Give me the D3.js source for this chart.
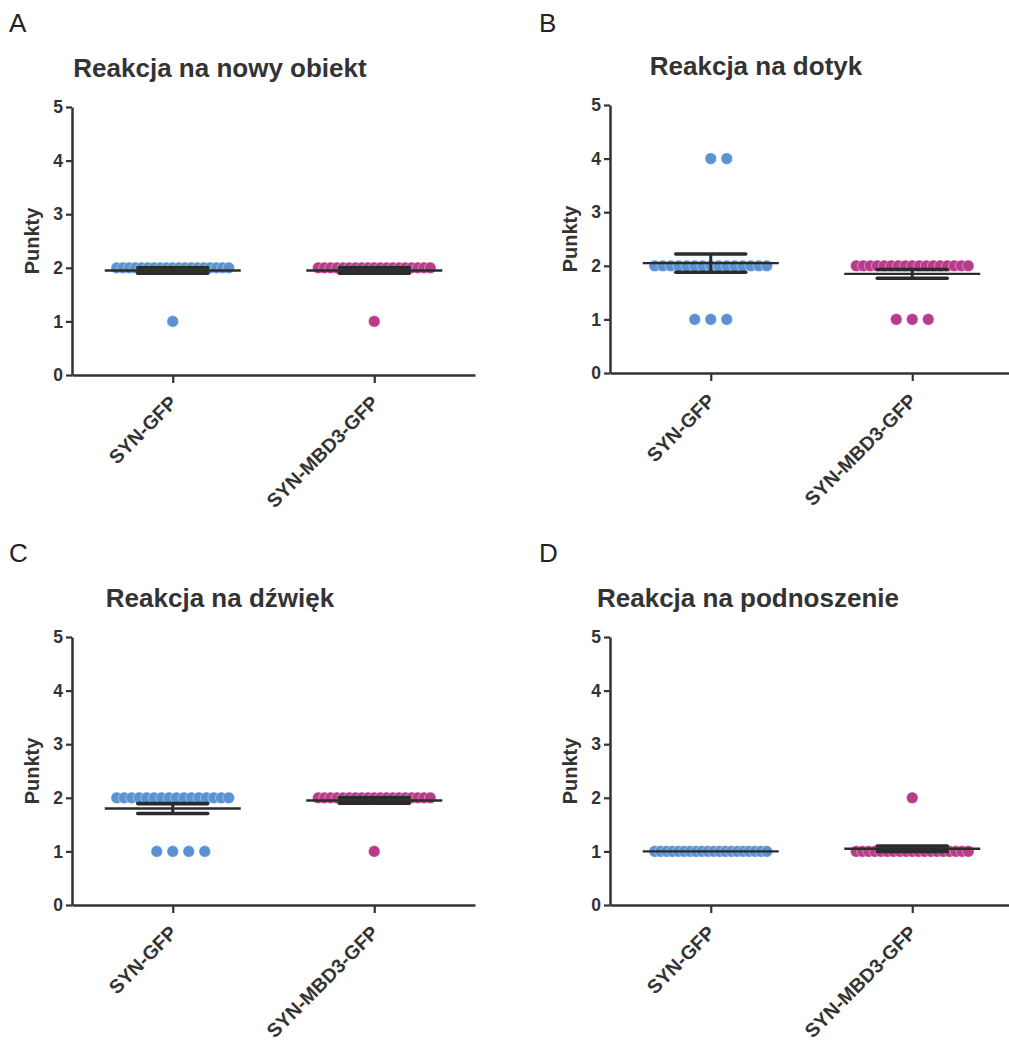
<!DOCTYPE html>
<html><head><meta charset="utf-8">
<script src="https://cdn.jsdelivr.net/npm/d3@7/dist/d3.min.js"></script>
<style>
body{margin:0;background:#fff;}
text{font-family:"Liberation Sans",Arial,sans-serif;}
</style></head>
<body>
<svg id="chart" width="1009" height="1041"></svg>
<script>
// ---- data ----
const categories = ["SYN-GFP", "SYN-MBD3-GFP"];
const panelLetters = ["A", "B", "C", "D"];
const panelTitles = ["Reakcja na nowy obiekt", "Reakcja na dotyk", "Reakcja na dźwięk", "Reakcja na podnoszenie"];
const yTickValues = [0, 1, 2, 3, 4, 5];
const yLabel = "Punkty";
const groupColors = ["#5b92d2", "#b93c8b"];

const nowyObiekt_SYN  = [2,2,2,2,2,2,2,2,2,2,2,2,2,2,2,2,2,2,2,1];
const nowyObiekt_MBD3 = [2,2,2,2,2,2,2,2,2,2,2,2,2,2,2,2,2,2,2,1];
const dotyk_SYN       = [4,4,2,2,2,2,2,2,2,2,2,2,2,2,2,2,2,1,1,1];
const dotyk_MBD3      = [2,2,2,2,2,2,2,2,2,2,2,2,2,2,2,2,2,1,1,1];
const dzwiek_SYN      = [2,2,2,2,2,2,2,2,2,2,2,2,2,2,2,2,1,1,1,1];
const dzwiek_MBD3     = [2,2,2,2,2,2,2,2,2,2,2,2,2,2,2,2,2,2,2,1];
const podnoszenie_SYN = [1,1,1,1,1,1,1,1,1,1,1,1,1,1,1,1,1,1,1,1];
const podnoszenie_MBD3= [2,1,1,1,1,1,1,1,1,1,1,1,1,1,1,1,1,1,1,1];

const panelData = [
  [nowyObiekt_SYN, nowyObiekt_MBD3],
  [dotyk_SYN, dotyk_MBD3],
  [dzwiek_SYN, dzwiek_MBD3],
  [podnoszenie_SYN, podnoszenie_MBD3]
];

// ---- layout ----
const layout = [
  {x0:72,  y0:107, titleX:220, titleY:77,  letterX:9,   letterY:32},
  {x0:610, y0:105, titleX:756, titleY:75,  letterX:539, letterY:32},
  {x0:72,  y0:637, titleX:220, titleY:607, letterX:9,   letterY:562},
  {x0:610, y0:637, titleX:748, titleY:607, letterX:539, letterY:562}
];
const plotW = 403, plotH = 268;
const dotR = 5.8, dotStep = 16, maxSpread = 112;
const meanHalf = 68, capHalf = 35;
const ink = "#2b2b2b";

const svg = d3.select("#chart");

function offsets(k){
  const out = [];
  if ((k-1)*dotStep <= maxSpread){
    for (let i=0;i<k;i++){
      const m = Math.ceil(i/2);
      out.push(i===0 ? 0 : (i%2===1 ? m : -m) * dotStep);
    }
  } else {
    const s = maxSpread/(k-1);
    for (let i=0;i<k;i++) out.push(-maxSpread/2 + i*s);
  }
  return out;
}

panelData.forEach((groups, p) => {
  const L = layout[p];
  const g = svg.append("g");
  const x = d3.scalePoint().domain(categories).range([L.x0, L.x0+plotW]).padding(0.5);
  const y = d3.scaleLinear().domain([0,5]).range([L.y0+plotH, L.y0]);

  // letter & title
  g.append("text").attr("x", L.letterX).attr("y", L.letterY)
    .attr("font-size", 26).attr("fill", "#222").text(panelLetters[p]);
  g.append("text").attr("x", L.titleX).attr("y", L.titleY)
    .attr("text-anchor","middle").attr("font-size", 26).attr("font-weight","bold")
    .attr("fill","#333").text(panelTitles[p]);

  // y axis
  const ya = g.append("g").attr("transform", `translate(${L.x0},0)`)
    .call(d3.axisLeft(y).tickValues(yTickValues).tickFormat(d3.format("d")).tickSize(6).tickSizeOuter(0).tickPadding(3));
  ya.select(".domain").attr("stroke", "#333").attr("stroke-width", 2.5);
  ya.selectAll(".tick line").attr("stroke", "#333").attr("stroke-width", 2.2);
  ya.selectAll(".tick text").attr("font-size", 17.5).attr("font-weight","bold").attr("fill","#333")
    .style("font-family", '"Liberation Sans",Arial,sans-serif');

  // x axis
  const xa = g.append("g").attr("transform", `translate(0,${L.y0+plotH})`)
    .call(d3.axisBottom(x).tickSize(8).tickSizeOuter(0).tickPadding(3));
  xa.select(".domain").attr("stroke", "#333").attr("stroke-width", 2.5);
  xa.selectAll(".tick line").attr("stroke", "#333").attr("stroke-width", 2.2);
  xa.selectAll(".tick text")
    .attr("font-size", 19.5).attr("font-weight","bold").attr("fill","#333")
    .style("font-family", '"Liberation Sans",Arial,sans-serif')
    .attr("text-anchor","end").attr("dy", null).attr("y", null)
    .attr("transform", "translate(5,29) rotate(-45)");

  // y label
  g.append("text")
    .attr("transform", `translate(${L.x0-33},${L.y0+plotH/2}) rotate(-90)`)
    .attr("text-anchor","middle").attr("font-size", 20).attr("font-weight","bold")
    .attr("fill","#333").text(yLabel);

  groups.forEach((vals, gi) => {
    const cx = x(categories[gi]);
    // dots
    const byVal = d3.group(vals, v => v);
    const pts = [];
    for (const [v, arr] of byVal){
      offsets(arr.length).forEach(o => pts.push({v, o}));
    }
    g.append("g").selectAll("circle").data(pts).join("circle")
      .attr("cx", d => cx + d.o).attr("cy", d => y(d.v)).attr("r", dotR)
      .attr("fill", groupColors[gi]).attr("stroke", "#fff").attr("stroke-width", 0.4);

    const mean = d3.mean(vals);
    const sem = d3.deviation(vals) / Math.sqrt(vals.length);
    g.append("line").attr("x1", cx-meanHalf).attr("x2", cx+meanHalf)
      .attr("y1", y(mean)).attr("y2", y(mean)).attr("stroke", ink).attr("stroke-width", 2.4);
    if (sem > 0){
      g.append("line").attr("x1", cx).attr("x2", cx)
        .attr("y1", y(mean+sem)).attr("y2", y(mean-sem)).attr("stroke", ink).attr("stroke-width", 3);
      [mean+sem, mean-sem].forEach(v => {
        g.append("line").attr("x1", cx-capHalf).attr("x2", cx+capHalf)
          .attr("y1", y(v)).attr("y2", y(v)).attr("stroke", ink).attr("stroke-width", 3.6)
          .attr("stroke-linecap","round");
      });
    }
  });
});
</script>
</body></html>
